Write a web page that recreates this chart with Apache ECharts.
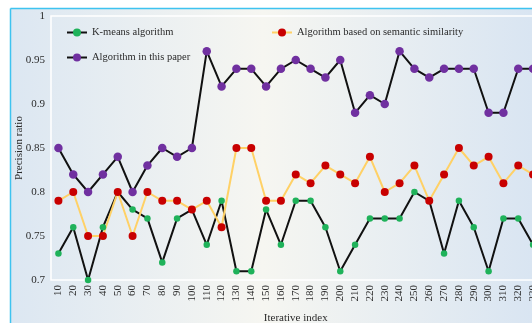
<!DOCTYPE html>
<html>
<head>
<meta charset="utf-8">
<script src="https://cdn.jsdelivr.net/npm/echarts@6/dist/echarts.min.js"></script>
<style>
  html, body { margin: 0; padding: 0; background: #ffffff; overflow: hidden; }
  #chart { width: 560px; height: 323px; }
</style>
</head>
<body>
<div id="chart"></div>
<script>
// Iteration indices on the x axis
const iterations = ['10','20','30','40','50','60','70','80','90','100','110','120','130','140','150','160',
  '170','180','190','200','210','220','230','240','250','260','270','280','290','300','310','320','330'];

// Precision ratio per iteration for each method
const kmeans = [0.73,0.76,0.70,0.76,0.80,0.78,0.77,0.72,0.77,0.78,0.74,0.79,0.71,0.71,0.78,0.74,
  0.79,0.79,0.76,0.71,0.74,0.77,0.77,0.77,0.80,0.79,0.73,0.79,0.76,0.71,0.77,0.77,0.74];
const semantic = [0.79,0.80,0.75,0.75,0.80,0.75,0.80,0.79,0.79,0.78,0.79,0.76,0.85,0.85,0.79,0.79,
  0.82,0.81,0.83,0.82,0.81,0.84,0.80,0.81,0.83,0.79,0.82,0.85,0.83,0.84,0.81,0.83,0.82];
const proposed = [0.85,0.82,0.80,0.82,0.84,0.80,0.83,0.85,0.84,0.85,0.96,0.92,0.94,0.94,0.92,0.94,
  0.95,0.94,0.93,0.95,0.89,0.91,0.90,0.96,0.94,0.93,0.94,0.94,0.94,0.89,0.89,0.94,0.94];

const yTicks = ['0.7','0.75','0.8','0.85','0.9','0.95','1'];

const FONT = '"Liberation Serif", "Times New Roman", serif';
const TEXT = '#2b2b2b';

const chart = echarts.init(document.getElementById('chart'), null, { renderer: 'canvas' });

const legendText = { fontFamily: FONT, fontSize: 10.5, color: TEXT };

chart.setOption({
  animation: false,
  textStyle: { fontFamily: FONT, color: TEXT },
  graphic: [
    {
      type: 'rect', z: -10, silent: true,
      shape: { x: 11, y: 9, width: 560, height: 320 },
      style: {
        fill: new echarts.graphic.LinearGradient(0, 0, 1, 0, [
          { offset: 0, color: '#dce7f2' },
          { offset: 0.45, color: '#f6f6f1' },
          { offset: 0.93, color: '#d9e5f2' },
          { offset: 1, color: '#d9e5f2' }
        ])
      }
    },
    { type: 'line', z: -5, silent: true, shape: { x1: 10.5, y1: 8.5, x2: 560, y2: 8.5 }, style: { stroke: '#3ec3f0', lineWidth: 1.5 } },
    { type: 'line', z: -5, silent: true, shape: { x1: 10.5, y1: 8.5, x2: 10.5, y2: 323 }, style: { stroke: '#3ec3f0', lineWidth: 1.5 } }
  ],
  grid: {
    left: 51, top: 16, width: 489.5, height: 264,
    outerBoundsMode: 'none',
    containLabel: false,
    show: true, borderColor: '#ffffff', borderWidth: 1.5, backgroundColor: 'transparent'
  },
  legend: [
    {
      data: ['K-means algorithm'], left: 66, top: 27, padding: 0, itemWidth: 20, itemHeight: 10,
      textStyle: legendText
    },
    {
      data: ['Algorithm in this paper'], left: 66, top: 52, padding: 0, itemWidth: 20, itemHeight: 10,
      textStyle: legendText
    },
    {
      data: ['Algorithm based on semantic similarity'], left: 271, top: 27, padding: 0, itemWidth: 20, itemHeight: 10,
      textStyle: legendText
    }
  ],
  xAxis: {
    type: 'category',
    data: iterations,
    boundaryGap: true,
    name: 'Iterative index',
    nameLocation: 'middle',
    nameGap: 33,
    nameMoveOverlap: false,
    nameTextStyle: { fontFamily: FONT, fontSize: 11, color: TEXT },
    axisLine: { show: false },
    axisTick: { show: false },
    axisLabel: { rotate: 90, margin: 5, fontFamily: FONT, fontSize: 11, color: TEXT, interval: 0 },
    splitLine: { show: false }
  },
  yAxis: {
    type: 'value',
    min: 0.7, max: 1, interval: 0.05,
    name: 'Precision ratio',
    nameLocation: 'middle',
    nameGap: 26,
    nameMoveOverlap: false,
    nameTextStyle: { fontFamily: FONT, fontSize: 11, color: TEXT },
    axisLine: { show: false },
    axisTick: { show: false },
    splitLine: { show: false },
    axisLabel: {
      margin: 6, fontFamily: FONT, fontSize: 11, color: TEXT,
      formatter: v => {
        const s = yTicks.find(t => Math.abs(parseFloat(t) - v) < 1e-6);
        return s !== undefined ? s : '';
      }
    }
  },
  series: [
    {
      name: 'K-means algorithm', type: 'line', data: kmeans,
      symbol: 'circle', symbolSize: 6.5,
      lineStyle: { color: '#111111', width: 2 },
      itemStyle: { color: '#1fb25a' }
    },
    {
      name: 'Algorithm based on semantic similarity', type: 'line', data: semantic,
      symbol: 'circle', symbolSize: 8,
      lineStyle: { color: '#ffd166', width: 2 },
      itemStyle: { color: '#c80000' }
    },
    {
      name: 'Algorithm in this paper', type: 'line', data: proposed,
      symbol: 'circle', symbolSize: 8.5,
      lineStyle: { color: '#111111', width: 2 },
      itemStyle: { color: '#7030a0' }
    }
  ]
});
</script>
</body>
</html>
